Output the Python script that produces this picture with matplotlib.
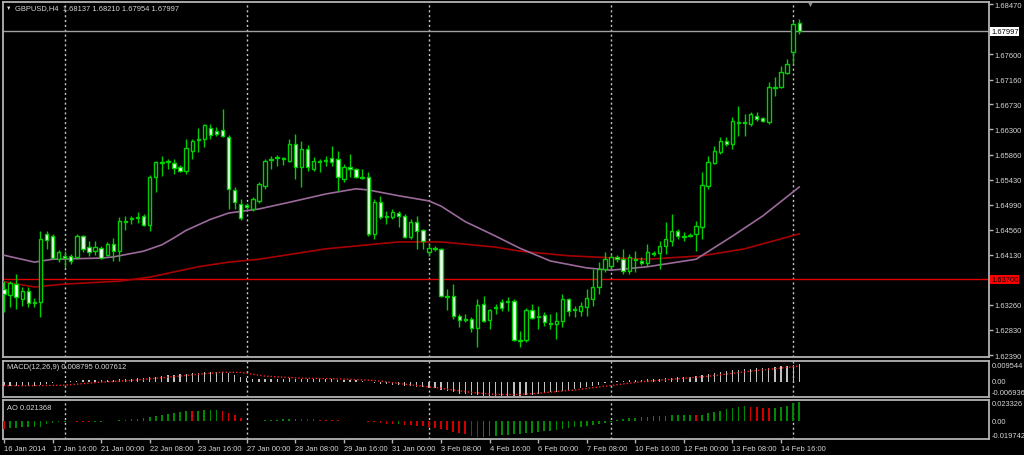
import matplotlib
matplotlib.use('Agg')
import matplotlib.pyplot as plt
import numpy as np
from matplotlib.transforms import blended_transform_factory

plt.rcParams['font.family'] = ['Liberation Sans', 'DejaVu Sans']

# GBPUSD H4 candles (bar index 0 = 16 Jan 2014 08:00)
opens = [1.6353, 1.6343, 1.6362, 1.6336, 1.6350, 1.6331, 1.6331, 1.6449, 1.6445, 1.6405,
         1.6411, 1.6411, 1.6409, 1.6445, 1.6426, 1.6419, 1.6424, 1.6412, 1.6431, 1.6419,
         1.6471, 1.6475, 1.6476, 1.6480, 1.6464, 1.6547, 1.6573, 1.6573, 1.6572, 1.6565,
         1.6558, 1.6592, 1.6613, 1.6613, 1.6632, 1.6627, 1.6629, 1.6617, 1.6525, 1.6501,
         1.6499, 1.6492, 1.6506, 1.6532, 1.6579, 1.6580, 1.6580, 1.6575, 1.6605, 1.6565,
         1.6596, 1.6561, 1.6575, 1.6575, 1.6580, 1.6579, 1.6544, 1.6565, 1.6561, 1.6547,
         1.6547, 1.6449, 1.6504, 1.6480, 1.6478, 1.6485, 1.6480, 1.6443, 1.6470, 1.6456,
         1.6417, 1.6424, 1.6423, 1.6341, 1.6341, 1.6307, 1.6302, 1.6302, 1.6286, 1.6327,
         1.6300, 1.6322, 1.6331, 1.6333, 1.6333, 1.6265, 1.6265, 1.6317, 1.6307, 1.6308,
         1.6295, 1.6293, 1.6298, 1.6336, 1.6319, 1.6315, 1.6322, 1.6336, 1.6357, 1.6388,
         1.6393, 1.6409, 1.6405, 1.6385, 1.6405, 1.6402, 1.6398, 1.6416, 1.6416, 1.6428,
         1.6437, 1.6454, 1.6445, 1.6447, 1.6449, 1.6461, 1.6532, 1.6572, 1.6591, 1.6610,
         1.6605, 1.6643, 1.6643, 1.6639, 1.6653, 1.6650, 1.6643, 1.6703, 1.6703, 1.6727,
         1.6764, 1.68137]
highs = [1.6367, 1.6367, 1.6379, 1.6357, 1.6357, 1.6338, 1.6454, 1.6454, 1.6449, 1.6421,
         1.6419, 1.6414, 1.6449, 1.6447, 1.6437, 1.6437, 1.6428, 1.6435, 1.6442, 1.6478,
         1.6480, 1.6480, 1.6487, 1.6483, 1.6551, 1.6575, 1.6584, 1.6579, 1.6579, 1.6568,
         1.6613, 1.6613, 1.6632, 1.6639, 1.6639, 1.6634, 1.6665, 1.6620, 1.6530, 1.6509,
         1.6502, 1.6513, 1.6539, 1.6579, 1.6584, 1.6586, 1.6582, 1.6613, 1.6622, 1.6610,
         1.6603, 1.6582, 1.6579, 1.6584, 1.6601, 1.6592, 1.6570, 1.6587, 1.6563, 1.6561,
         1.6556, 1.6509, 1.6515, 1.6489, 1.6492, 1.6489, 1.6483, 1.6475, 1.6480, 1.6457,
         1.6431, 1.6428, 1.6424, 1.6353, 1.6362, 1.6310, 1.6310, 1.6305, 1.6336, 1.6341,
         1.6319, 1.6327, 1.6336, 1.6340, 1.6336, 1.6281, 1.6320, 1.6327, 1.6324, 1.6314,
         1.6310, 1.6314, 1.6345, 1.6338, 1.6324, 1.6331, 1.6353, 1.6388, 1.6400, 1.6417,
         1.6414, 1.6412, 1.6423, 1.6414, 1.6419, 1.6409, 1.6431, 1.6419, 1.6437, 1.6470,
         1.6483, 1.6457, 1.6452, 1.6450, 1.6471, 1.6556, 1.6584, 1.6601, 1.6617, 1.6617,
         1.6651, 1.6670, 1.6656, 1.6660, 1.6660, 1.6651, 1.6712, 1.6721, 1.6740, 1.6752,
         1.6818, 1.68210]
lows = [1.6314, 1.6322, 1.6319, 1.6324, 1.6322, 1.6322, 1.6305, 1.6423, 1.6405, 1.6400,
        1.6390, 1.6397, 1.6405, 1.6417, 1.6411, 1.6412, 1.6405, 1.6411, 1.6402, 1.6402,
        1.6456, 1.6466, 1.6468, 1.6463, 1.6454, 1.6521, 1.6549, 1.6561, 1.6553, 1.6556,
        1.6553, 1.6579, 1.6591, 1.6599, 1.6613, 1.6618, 1.6617, 1.6492, 1.6492, 1.6473,
        1.6492, 1.6489, 1.6502, 1.6527, 1.6561, 1.6566, 1.6568, 1.6573, 1.6544, 1.6530,
        1.6558, 1.6558, 1.6556, 1.6566, 1.6566, 1.6523, 1.6539, 1.6547, 1.6546, 1.6544,
        1.6445, 1.6440, 1.6475, 1.6466, 1.6475, 1.6461, 1.6442, 1.6440, 1.6423, 1.6423,
        1.6411, 1.6419, 1.6340, 1.6317, 1.6302, 1.6288, 1.6296, 1.6279, 1.6253, 1.6296,
        1.6284, 1.6310, 1.6315, 1.6315, 1.6263, 1.6253, 1.6262, 1.6302, 1.6284, 1.6289,
        1.6284, 1.6267, 1.6288, 1.6307, 1.6305, 1.6307, 1.6307, 1.6324, 1.6345, 1.6383,
        1.6388, 1.6400, 1.6379, 1.6379, 1.6383, 1.6395, 1.6393, 1.6411, 1.6388, 1.6414,
        1.6428, 1.6440, 1.6437, 1.6443, 1.6419, 1.6440, 1.6527, 1.6570, 1.6587, 1.6601,
        1.6596, 1.6618, 1.6618, 1.6636, 1.6644, 1.6643, 1.6639, 1.6688, 1.6702, 1.6726,
        1.6743, 1.67954]
closes = [1.6345, 1.6364, 1.6340, 1.6350, 1.6329, 1.6329, 1.6440, 1.6438, 1.6407, 1.6417,
          1.6407, 1.6402, 1.6445, 1.6423, 1.6417, 1.6426, 1.6407, 1.6431, 1.6419, 1.6471,
          1.6470, 1.6476, 1.6478, 1.6464, 1.6547, 1.6573, 1.6572, 1.6575, 1.6563, 1.6558,
          1.6598, 1.6610, 1.6611, 1.6637, 1.6620, 1.6622, 1.6618, 1.6527, 1.6504, 1.6476,
          1.6495, 1.6509, 1.6535, 1.6575, 1.6577, 1.6582, 1.6579, 1.6605, 1.6565, 1.6596,
          1.6565, 1.6575, 1.6573, 1.6577, 1.6573, 1.6547, 1.6565, 1.6561, 1.6547, 1.6546,
          1.6449, 1.6504, 1.6478, 1.6478, 1.6487, 1.6480, 1.6443, 1.6470, 1.6454, 1.6437,
          1.6424, 1.6423, 1.6341, 1.6340, 1.6307, 1.6300, 1.6300, 1.6286, 1.6326, 1.6298,
          1.6317, 1.6320, 1.6320, 1.6331, 1.6265, 1.6263, 1.6317, 1.6303, 1.6305, 1.6296,
          1.6293, 1.6298, 1.6336, 1.6315, 1.6317, 1.6324, 1.6338, 1.6357, 1.6388, 1.6405,
          1.6409, 1.6405, 1.6385, 1.6409, 1.6403, 1.6398, 1.6417, 1.6414, 1.6428, 1.6440,
          1.6454, 1.6445, 1.6443, 1.6445, 1.6463, 1.6534, 1.6573, 1.6592, 1.6610, 1.6605,
          1.6644, 1.6641, 1.6641, 1.6656, 1.6648, 1.6644, 1.6703, 1.6702, 1.6729, 1.6743,
          1.6812, 1.67997]

# moving averages, read at sample bars
ma_fast_bar = [0, 5, 8, 16, 18, 23, 26, 28, 30, 34, 37, 42, 48, 53, 58, 60, 65, 70, 72, 76,
               81, 85, 90, 96, 100, 106, 114, 120, 125, 131]
ma_fast = [1.6412, 1.6400, 1.6405, 1.6407, 1.6409, 1.6419, 1.6430, 1.6442, 1.6455, 1.6474,
           1.6485, 1.6492, 1.6506, 1.6518, 1.6527, 1.6525, 1.6515, 1.6506, 1.6497, 1.6470,
           1.6445, 1.6424, 1.6402, 1.6390, 1.6386, 1.6392, 1.6405, 1.6445, 1.6480, 1.6530]
ma_slow_bar = [0, 5, 10, 19, 24, 32, 37, 42, 53, 65, 72, 81, 85, 93, 101, 106, 115, 122, 131]
ma_slow = [1.6366, 1.6357, 1.6362, 1.6367, 1.6374, 1.6392, 1.6400, 1.6405, 1.6423, 1.6435,
           1.6435, 1.6426, 1.6419, 1.6411, 1.6407, 1.6405, 1.6411, 1.6423, 1.6449]

level_line = 1.63700
price_ticks = [1.68470, 1.67600, 1.67160, 1.66730, 1.66300, 1.65860, 1.65430, 1.64990,
               1.64560, 1.64130, 1.63260, 1.62830, 1.62390]

# MACD(12,26,9)
macd_hist = [-0.0020, -0.0021, -0.0022, -0.0021, -0.0020, -0.0019, -0.0016, -0.0010, -0.0006, -0.0003,
             0.0000, 0.0003, 0.0005, 0.0006, 0.0007, 0.0008, 0.0008, 0.0009, 0.0010, 0.0012,
             0.0013, 0.0014, 0.0016, 0.0018, 0.0021, 0.0025, 0.0028, 0.0031, 0.0033, 0.0035,
             0.0038, 0.0041, 0.0044, 0.0046, 0.0048, 0.0049, 0.0048, 0.0042, 0.0034, 0.0025,
             0.0018, 0.0012, 0.0011, 0.0013, 0.0014, 0.0014, 0.0015, 0.0016, 0.0015, 0.0015,
             0.0014, 0.0014, 0.0013, 0.0013, 0.0012, 0.0010, 0.0009, 0.0008, 0.0006, 0.0005,
             -0.0002, -0.0005, -0.0009, -0.0012, -0.0014, -0.0016, -0.0020, -0.0022, -0.0024, -0.0027,
             -0.0030, -0.0032, -0.0040, -0.0046, -0.0052, -0.0058, -0.0062, -0.0065, -0.0066, -0.0068,
             -0.0069, -0.0069, -0.0068, -0.0067, -0.0068, -0.0069, -0.0066, -0.0063, -0.0060, -0.0056,
             -0.0052, -0.0048, -0.0043, -0.0039, -0.0035, -0.0030, -0.0025, -0.0020, -0.0014, -0.0008,
             -0.0003, 0.0002, 0.0005, 0.0007, 0.0009, 0.0010, 0.0012, 0.0013, 0.0015, 0.0017,
             0.0019, 0.0021, 0.0023, 0.0025, 0.0028, 0.0033, 0.0038, 0.0043, 0.0048, 0.0052,
             0.0056, 0.0059, 0.0061, 0.0063, 0.0064, 0.0065, 0.0068, 0.0071, 0.0074, 0.0077,
             0.0083, 0.008795]
signal_bar = [0, 6, 10, 16, 21, 27, 32, 36, 39, 43, 49, 55, 61, 66, 72, 77, 81, 85, 88, 94,
              99, 105, 110, 116, 122, 128, 131]
signal = [-0.0019, -0.0019, -0.0017, -0.0002, 0.0006, 0.0022, 0.0036, 0.0046, 0.0045, 0.0027,
          0.0017, 0.0014, 0.0006, -0.0012, -0.0032, -0.0052, -0.0062, -0.0062, -0.0056, -0.0040,
          -0.0022, 0.0000, 0.0012, 0.0026, 0.0048, 0.0066, 0.007612]
macd_range = [-0.006936, 0.009544]

# Awesome Oscillator
ao = [-0.0088, -0.0075, -0.0072, -0.0070, -0.0068, -0.0065, -0.0060, -0.0035, -0.0020, -0.0010,
      -0.0005, -0.0003, -0.0006, -0.0009, -0.0010, -0.0008, -0.0005, -0.0002, 0.0003, 0.0008,
      0.0012, 0.0018, 0.0025, 0.0035, 0.0045, 0.0058, 0.0070, 0.0082, 0.0093, 0.0103,
      0.0110, 0.0108, 0.0112, 0.0118, 0.0122, 0.0125, 0.0115, 0.0095, 0.0065, 0.0035,
      0.0005, 0.0002, 0.0004, 0.0008, 0.0012, 0.0016, 0.0020, 0.0023, 0.0025, 0.0023,
      0.0020, 0.0018, 0.0016, 0.0014, 0.0012, 0.0010, 0.0006, 0.0003, 0.0001, -0.0002,
      -0.0008, -0.0013, -0.0020, -0.0028, -0.0035, -0.0033, -0.0038, -0.0045, -0.0050, -0.0058,
      -0.0068, -0.0075, -0.0085, -0.0100, -0.0115, -0.0130, -0.0145, -0.0160, -0.0175, -0.0170,
      -0.0165, -0.0160, -0.0155, -0.0150, -0.0146, -0.0140, -0.0134, -0.0128, -0.0120, -0.0112,
      -0.0105, -0.0096, -0.0088, -0.0080, -0.0070, -0.0060, -0.0050, -0.0040, -0.0030, -0.0020,
      -0.0005, 0.0008, 0.0020, 0.0030, 0.0038, 0.0045, 0.0050, 0.0055, 0.0058, 0.0061,
      0.0064, 0.0067, 0.0070, 0.0073, 0.0068, 0.0073, 0.0085, 0.0100, 0.0115, 0.0130,
      0.0145, 0.0155, 0.0162, 0.0158, 0.0152, 0.0145, 0.0140, 0.0148, 0.0158, 0.0170,
      0.0195, 0.021368]
ao_range = [-0.019742, 0.023326]

date_bar = list(range(0, 129, 8))
date_labels = ['16 Jan 2014', '17 Jan 16:00', '21 Jan 00:00', '22 Jan 08:00', '23 Jan 16:00',
               '27 Jan 00:00', '28 Jan 08:00', '29 Jan 16:00', '31 Jan 00:00', '3 Feb 08:00',
               '4 Feb 16:00', '6 Feb 00:00', '7 Feb 08:00', '10 Feb 16:00', '12 Feb 00:00',
               '13 Feb 08:00', '14 Feb 16:00']
week_bar = [10, 40, 70, 100, 130]

W, H = 1024, 456
GREEN = '#00d000'
FRAME = '#b4b4b4'
TXT = '#d8d8d8'
FS = 5.4

fig = plt.figure(figsize=(W / 100, H / 100), dpi=100, facecolor='black')


def panel(top, bottom):
    a = fig.add_axes([2.5 / W, 1 - bottom / H, (989 - 2.5) / W, (bottom - top) / H])
    a.set_facecolor('black')
    for s in a.spines.values():
        s.set_color(FRAME)
        s.set_linewidth(1.3)
    a.set_xlim(-0.25, 162.27)
    a.set_xticks([])
    a.set_yticks([])
    for k in week_bar:
        a.axvline(k, color='#c8c8c8', lw=1, ls=(0, (1.5, 2)), zorder=1)
    return a


ax = panel(3, 358)
ax_macd = panel(362, 398)
ax_ao = panel(401, 440)

# main price panel
x = np.arange(len(opens))
o, h, l, c = map(np.array, (opens, highs, lows, closes))
bull = c >= o
ax.axhline(level_line, color='#e00000', lw=1, zorder=2)
ax.axhline(closes[-1], color='#a0a0a0', lw=1, zorder=2)
ax.plot(ma_slow_bar, ma_slow, color='#a80000', lw=1.2, zorder=3)
ax.plot(ma_fast_bar, ma_fast, color='#9b6a9b', lw=1.2, zorder=3)
ax.vlines(x, l, h, color=GREEN, lw=1, zorder=4)
ax.bar(x, np.abs(c - o), bottom=np.minimum(o, c), width=0.55,
       color=np.where(bull, 'black', 'white'), edgecolor=GREEN, linewidth=1, zorder=5)
ax.set_ylim(1.62357, 1.68505)
ax.yaxis.tick_right()
ax.set_yticks(price_ticks)
ax.set_yticklabels([f'{v:.5f}' for v in price_ticks])
ax.tick_params(axis='y', colors=FRAME, labelcolor=TXT, labelsize=FS, length=3, width=1, pad=1)

tr = blended_transform_factory(ax.transAxes, ax.transData)
ax.text(1.002, closes[-1], f'{closes[-1]:.5f}', transform=tr, ha='left', va='center', fontsize=FS,
        color='black', bbox=dict(facecolor='white', edgecolor='none', pad=0.6), clip_on=False)
ax.text(1.002, level_line, f'{level_line:.5f}', transform=tr, ha='left', va='center', fontsize=FS,
        color='black', bbox=dict(facecolor='#ff0000', edgecolor='none', pad=0.6), clip_on=False)

fig.text(6 / W, 1 - 8.5 / H, '\u25bc', color=TXT, fontsize=4, va='center', ha='left')
fig.text(15 / W, 1 - 8.5 / H,
         f'GBPUSD,H4  {opens[-1]:.5f} {highs[-1]:.5f} {lows[-1]:.5f} {closes[-1]:.5f}',
         color=TXT, fontsize=FS, va='center', ha='left')
fig.text(810 / W, 1 - 5 / H, '\u25bc', color='#909090', fontsize=5, va='center', ha='center')

# MACD panel
ax_macd.bar(x, macd_hist, width=0.2, color='#c0c0c0', zorder=3)
ax_macd.plot(signal_bar, signal, color='#ff2020', lw=1, ls=(0, (1, 1.5)), zorder=4)
ax_macd.set_ylim(macd_range[0] - 0.000485, macd_range[1] + 0.000485)
ax_macd.text(0.005, 0.85, f'MACD(12,26,9) {macd_hist[-1]:.6f} {signal[-1]:.6f}',
             transform=ax_macd.transAxes, color=TXT, fontsize=FS, va='center', ha='left')
trm = blended_transform_factory(ax_macd.transAxes, ax_macd.transData)
ax_macd.text(1.003, macd_range[1], f'{macd_range[1]:.6f}', transform=trm, color=TXT,
             fontsize=FS, va='top', ha='left', clip_on=False)
ax_macd.text(1.003, 0, '0.00', transform=trm, color=TXT, fontsize=FS, va='center', ha='left',
             clip_on=False)
ax_macd.text(1.003, macd_range[0], f'{macd_range[0]:.6f}', transform=trm, color=TXT,
             fontsize=FS, va='bottom', ha='left', clip_on=False)

# AO panel
ao_arr = np.array(ao)
rising = np.r_[False, np.diff(ao_arr) >= 0]
ax_ao.bar(x, ao_arr, width=0.28, color=np.where(rising, '#008a00', '#d00000'), zorder=3)
ax_ao.set_ylim(ao_range[0], ao_range[1])
ax_ao.text(0.005, 0.82, f'AO {ao[-1]:.6f}', transform=ax_ao.transAxes, color=TXT,
           fontsize=FS, va='center', ha='left')
tra = blended_transform_factory(ax_ao.transAxes, ax_ao.transData)
ax_ao.text(1.003, ao_range[1], f'{ao_range[1]:.6f}', transform=tra, color=TXT,
           fontsize=FS, va='top', ha='left', clip_on=False)
ax_ao.text(1.003, 0, '0.00', transform=tra, color=TXT, fontsize=FS, va='center', ha='left',
           clip_on=False)
ax_ao.text(1.003, ao_range[0], f'{ao_range[0]:.6f}', transform=tra, color=TXT,
           fontsize=FS, va='bottom', ha='left', clip_on=False)

ax_ao.set_xticks(date_bar)
ax_ao.set_xticklabels(date_labels, ha='left')
ax_ao.tick_params(axis='x', colors=FRAME, labelcolor=TXT, labelsize=FS, length=3, width=1, pad=1)

fig.savefig('out.png', dpi=100, facecolor='black')
